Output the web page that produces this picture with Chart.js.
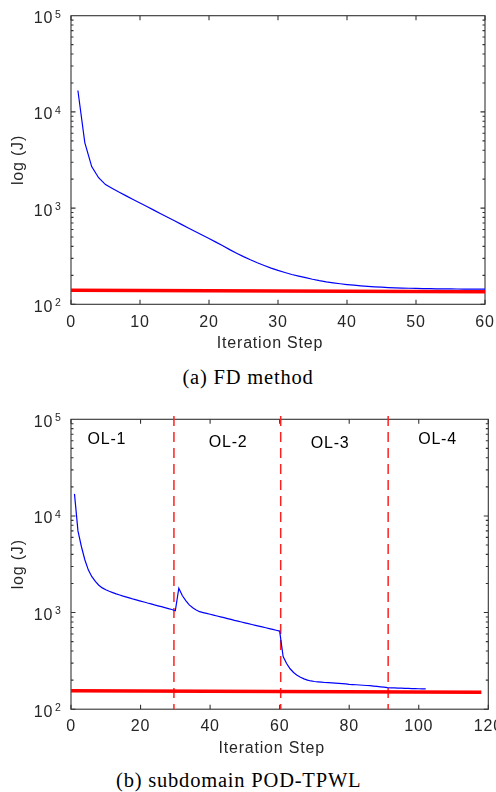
<!DOCTYPE html>
<html><head><meta charset="utf-8">
<script src="https://cdn.jsdelivr.net/npm/chart.js@4.4.1/dist/chart.umd.min.js"></script>
<style>
html,body{margin:0;padding:0;background:#fff;}
body{width:496px;height:792px;position:relative;overflow:hidden;}
canvas{position:absolute;left:0;}
#ca{top:0;}
#cb{top:392px;}
.cap{position:absolute;transform:translateX(-50%);font-family:"Liberation Serif","Times New Roman",serif;font-size:20.5px;line-height:20.5px;letter-spacing:0.8px;color:#000;white-space:nowrap;}
</style></head><body>
<canvas id="ca" width="496" height="362"></canvas>
<div class="cap" id="capa" style="left:248px;top:366.7px;">(a) FD method</div>
<canvas id="cb" width="496" height="370"></canvas>
<div class="cap" id="capb" style="left:238.7px;top:769.5px;">(b) subdomain POD-TPWL</div>
<script>
// ---------------- data ----------------
const fdSteps = Array.from({length:60},(_,i)=>i+1);
const fdCost = [16700,4800,2700,2070,1755,1600,1459,1340,1228,1129,
  1037,953,875,802,738,677,622,571,525,482,
  443,406,370,340,313,290,270,253,238,225,
  214,204,196,189,182,176,171,167,163.5,160.5,
  158,155.5,153.5,152,150.5,149.3,148.3,147.5,146.8,146.2,
  145.7,145.3,145,144.7,144.5,144.3,144.1,144,143.9,143.8];
const fdRefX = [0,60];
const fdRefCost = [140,135];

const podSteps = Array.from({length:102},(_,i)=>i+1);
const podCost = [16900,7000,4800,3500,2750,2350,2100,1920,1800,1720,
  1660,1610,1560,1520,1480,1445,1410,1375,1345,1315,
  1285,1255,1230,1200,1175,1150,1125,1100,1075,1045,
  1786,1500,1330,1200,1120,1065,1021,1000,980,960,
  940,921,903,885,867,850,831,815,799,783,
  768,753,738,724,710,696,682,669,656,643,
  350,297,262,240,225,214,206,200,196,193.5,
  192,190.5,189,188,187,186,185,184,183,181,
  180,179,178,177,176,175,173.5,172,170.5,169,
  167,166.5,166,165.5,165,164.5,164,163.5,163,162.7,
  162.4,162];
const podRefX = [0,118];
const podRefCost = [155.5,149.6];
const olDividers = [29.6,60.3,91.2];
const olLabels = ['OL-1','OL-2','OL-3','OL-4'];
const olLabelSteps = [10.3,45.2,74.5,105.4];

const xTicksA = {min:0,max:60,step:10};
const xTicksB = {min:0,max:120,step:20};
const yRange = {min:100,max:100000};
const xTitle = 'Iteration Step';
const yTitle = 'log (J)';

// ---------------- styling / plugins ----------------
const SANS = '"Liberation Sans", Arial, Helvetica, sans-serif';
const AXC = '#262626';
const FS = 16;
const LS = '0.8px';
Chart.defaults.font.family = SANS;
Chart.defaults.font.size = FS;
Chart.defaults.color = AXC;

const spacing = {
  id:'spacing',
  beforeLayout(c){ c.ctx.letterSpacing=LS; },
  beforeDraw(c){ c.ctx.letterSpacing=LS; }
};

const isDecade = v => { const l=Math.log10(v); return Math.abs(l-Math.round(l))<1e-9; };

const frame = {
  id:'frame',
  beforeDatasetsDraw(c){
    const {ctx, chartArea:a, scales:{x,y}} = c;
    ctx.save();
    ctx.strokeStyle = '#333';
    ctx.lineWidth = 1.1;
    ctx.beginPath();
    x.ticks.forEach(t=>{
      const px = x.getPixelForValue(t.value);
      ctx.moveTo(px,a.bottom); ctx.lineTo(px,a.bottom-4.5);
      ctx.moveTo(px,a.top); ctx.lineTo(px,a.top+4.5);
    });
    for(let e=2;e<5;e++){
      for(let m=1;m<10;m++){
        const py = y.getPixelForValue(m*Math.pow(10,e));
        const len = m===1?4.5:2.5;
        ctx.moveTo(a.left,py); ctx.lineTo(a.left+len,py);
        ctx.moveTo(a.right,py); ctx.lineTo(a.right-len,py);
      }
    }
    ctx.stroke();
    ctx.strokeRect(a.left,a.top,a.width,a.height);
    ctx.restore();
  },
  afterDraw(c){
    const {ctx, chartArea:a, scales:{y}} = c;
    ctx.save();
    ctx.font = '10.5px '+SANS;
    ctx.fillStyle = AXC;
    ctx.textAlign='left'; ctx.textBaseline='middle';
    y.ticks.forEach(t=>{
      if(!isDecade(t.value)) return;
      const py = y.getPixelForValue(t.value);
      ctx.fillText(String(Math.round(Math.log10(t.value))), a.left-16, py-1);
    });
    // x-axis label (placed slightly left of the axes centre, as in the figure)
    ctx.letterSpacing=LS;
    ctx.font = FS+'px '+SANS;
    ctx.textAlign='center';
    ctx.fillText(xTitle, (a.left+a.right)/2-8, a.bottom+39.6);
    ctx.restore();
  }
};

const olText = {
  id:'olText',
  afterDatasetsDraw(c){
    const {ctx, scales:{x,y}} = c;
    ctx.save();
    ctx.letterSpacing=LS;
    ctx.font = FS+'px '+SANS;
    ctx.fillStyle = '#000';
    ctx.textAlign='center'; ctx.textBaseline='middle';
    const rowY = [62000,57000,56000,61000];
    olLabels.forEach((s,i)=>{
      ctx.fillText(s, x.getPixelForValue(olLabelSteps[i]), y.getPixelForValue(rowY[i]));
    });
    ctx.restore();
  }
};

function axes(xt, xAxisH, tickPad){
  return {
    x:{type:'linear',min:xt.min,max:xt.max,
      grid:{display:false,drawTicks:false},border:{display:false},
      ticks:{stepSize:xt.step,padding:tickPad,maxRotation:0,autoSkip:false,color:AXC},
      title:{display:false,text:xTitle},
      afterFit(s){ s.height=xAxisH; s.paddingLeft=0; s.paddingRight=0; }
    },
    y:{type:'logarithmic',min:yRange.min,max:yRange.max,
      grid:{display:false,drawTicks:false},border:{display:false},
      ticks:{autoSkip:false,padding:17.9,labelOffset:3,color:AXC,
        callback:(v)=> isDecade(v)?'10':''},
      title:{display:true,text:yTitle,color:AXC,padding:{top:9,bottom:0}},
      afterFit(s){ s.width=71; s.paddingTop=0; s.paddingBottom=0; }
    }
  };
}

const common = {
  responsive:false, animation:false, devicePixelRatio:1,
  plugins:{legend:{display:false},tooltip:{enabled:false}},
  elements:{point:{radius:0},line:{tension:0}}
};

// ---------------- chart (a) ----------------
new Chart(document.getElementById('ca'),{
  type:'line',
  data:{datasets:[
    {data:fdSteps.map((s,i)=>({x:s,y:fdCost[i]})),borderColor:'#0000ff',borderWidth:1.2,fill:false},
    {data:fdRefX.map((s,i)=>({x:s,y:fdRefCost[i]})),borderColor:'#ff0000',borderWidth:3.5,fill:false}
  ]},
  options:Object.assign({},common,{
    layout:{padding:{left:0,right:11,top:15.7,bottom:0}},
    scales:axes(xTicksA,57.7,8.6)
  }),
  plugins:[spacing,frame]
});

// ---------------- chart (b) ----------------
const dividerSets = olDividers.map(s=>({
  data:[{x:s,y:108000},{x:s,y:100}],
  borderColor:'#ff2020',borderWidth:1.5,borderDash:[10,6],fill:false,clip:false
}));
new Chart(document.getElementById('cb'),{
  type:'line',
  data:{datasets:[
    {data:podSteps.map((s,i)=>({x:s,y:podCost[i]})),borderColor:'#0000ff',borderWidth:1.2,fill:false},
    {data:podRefX.map((s,i)=>({x:s,y:podRefCost[i]})),borderColor:'#ff0000',borderWidth:3.5,fill:false},
    ...dividerSets
  ]},
  options:Object.assign({},common,{
    layout:{padding:{left:0,right:7.7,top:27.3,bottom:0}},
    scales:axes(xTicksB,52.8,8.2)
  }),
  plugins:[spacing,frame,olText]
});
</script>
</body></html>
